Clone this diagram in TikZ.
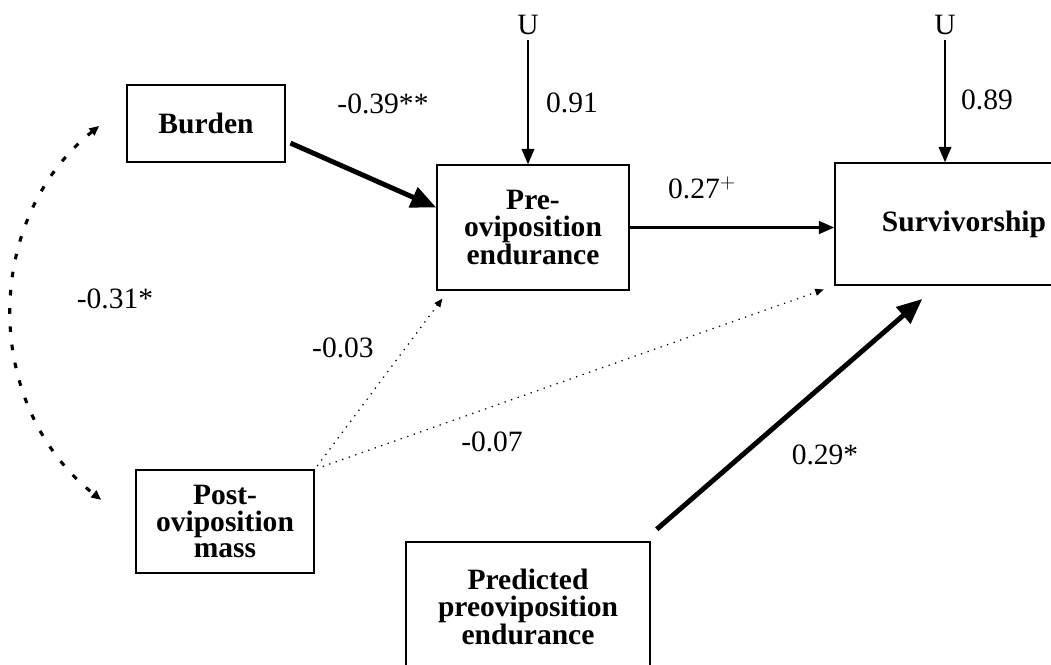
\documentclass[tikz,border=0pt]{standalone}
\usepackage{fontspec}
\setmainfont{Liberation Serif}
\usetikzlibrary{arrows.meta}

\tikzset{every picture/.style={line width=0.75pt}}
\tikzset{
	varbox/.style={draw, line width=1pt, inner sep=0pt, align=center,
		font=\fontsize{21}{19}\selectfont\bfseries},
	coef/.style={font=\fontsize{21}{24}\selectfont},
	errpath/.style={line width=1.4pt, -{Triangle[length=11pt,width=9pt]}},
	midpath/.style={line width=2pt, -{Triangle[length=11pt,width=9pt]}},
	strongpath/.style={line width=3.5pt, -{Triangle[length=18pt,width=15pt]}},
	weakpath/.style={line width=0.9pt, dash pattern=on 0.9pt off 4pt, -{Triangle[length=6pt,width=5pt]}},
	corrpath/.style={line width=2.2pt, dash pattern=on 4pt off 9pt, {Triangle[length=7pt,width=6pt]}-{Triangle[length=7pt,width=6pt]}}
}

\begin{document}
\begin{tikzpicture}[x=0.025cm, y=-0.025cm]
		\useasboundingbox (0,0) rectangle (1051,664);
		% variables
		\node[varbox, minimum width=3.95cm, minimum height=1.925cm] (burden) at (206,123.5) {Burden};
		\node[varbox, minimum width=4.8cm, minimum height=3.125cm] (pre) at (533,227.5) {Pre-\\oviposition\\endurance};
		\node[varbox, minimum width=6.45cm, minimum height=3.05cm] (surv) at (964,224) {Survivorship};
		\node[varbox, minimum width=4.45cm, minimum height=2.575cm] (post) at (225,521.5) {Post-\\oviposition\\mass};
		\node[varbox, minimum width=6.1cm, minimum height=3.25cm] (pred) at (528,607) {Predicted\\preoviposition\\endurance};
		\node[coef] (u1) at (528,25) {U};
		\node[coef] (u2) at (945,25) {U};
		% paths
		\draw[errpath] (u1) -- (u1 |- pre.north);
		\draw[errpath] (u2) -- (u2 |- surv.north);
		\draw[strongpath] ([xshift=0.12cm, yshift=-0.49cm]burden.east) -- ([yshift=0.5cm]pre.west);
		\draw[midpath] (pre.east) -- (pre.east -| surv.west);
		\draw[strongpath] ([xshift=0.15cm, yshift=0.3cm]pred.north east) -- ([xshift=2.2cm, yshift=-0.33cm]surv.south west);
		\draw[weakpath, shorten <=3pt, shorten >=7pt] (post.north east) -- ([xshift=0.3cm]pre.south west);
		\draw[weakpath, shorten <=6pt, shorten >=8pt] (post.north east) -- (surv.south west);
		\draw[corrpath] ([xshift=-0.675cm, yshift=-0.06cm]burden.west) .. controls (-18,220) and (-18,406) .. ([xshift=-0.85cm, yshift=0.54cm]post.west);
		% coefficients
		\node[coef] (c1) at (383,104) {-0.39**};
		\node[coef] (c2) at (572,103) {0.91};
		\node[coef] (c3) at (987,100) {0.89};
		\node[coef] (c4) at (702,188) {0.27$^{+}$};
		\node[coef] (c5) at (115,299) {-0.31*};
		\node[coef] (c6) at (343,348) {-0.03};
		\node[coef] (c7) at (492,442) {-0.07};
		\node[coef] (c8) at (825,455) {0.29*};
	\end{tikzpicture}
\end{document}
